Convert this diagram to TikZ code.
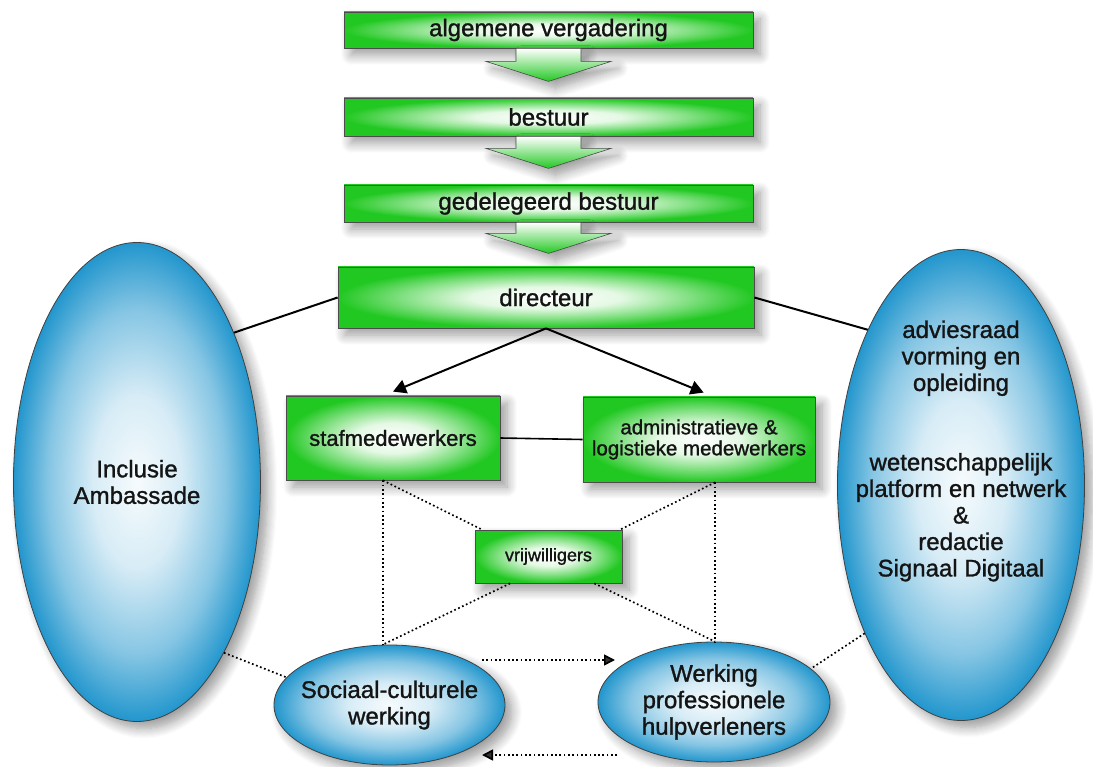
\documentclass[tikz,border=0pt]{standalone}
\usepackage{fontspec}
\setmainfont{Liberation Sans}[FakeBold=1.2]
\usetikzlibrary{shapes.geometric,arrows.meta,calc,shadows.blur}
\definecolor{gr}{RGB}{34,200,34}
\definecolor{bl}{RGB}{34,150,205}
\definecolor{txt}{RGB}{20,20,20}
\colorlet{grA}{white!88!gr}
\colorlet{grB}{gr!55!white}
\colorlet{blA}{white!96!bl}
\colorlet{blB}{white!82!bl}
\colorlet{blC}{bl!55!white}
\pgfdeclareradialshading{greenbox}{\pgfpoint{0bp}{0bp}}{color(0bp)=(white); color(9bp)=(grA); color(17bp)=(grB); color(25bp)=(gr); color(50bp)=(gr)}
\pgfdeclareradialshading{blueell}{\pgfpoint{0bp}{0bp}}{color(0bp)=(blA); color(9bp)=(blB); color(18bp)=(blC); color(25bp)=(bl); color(50bp)=(bl)}
\tikzset{
  shad/.style={blur shadow={shadow xshift=7pt, shadow yshift=-7pt, shadow blur radius=10pt, shadow blur steps=10}},
  gbox/.style={draw=black!70, line width=0.8pt, shading=greenbox, shad, inner sep=0pt, align=center, text=txt, font=\fontsize{24}{26}\selectfont},
  bell/.style={ellipse, draw=black!75, line width=0.8pt, shading=blueell, shad, inner sep=0pt, align=center, text=txt, font=\fontsize{24}{26.5}\selectfont},
  barrow/.style={draw=black!70, line width=0.6pt, top color=white, bottom color=gr, shad},
  solid link/.style={line width=2pt, draw=black},
  tip link/.style={line width=2pt, draw=black, -{Triangle[length=13pt,width=14pt]}},
  dotlink/.style={line width=1.7pt, dash pattern=on 1.7pt off 2.6pt},
  dotarrow/.style={dotlink, -{Triangle[length=11pt,width=11pt]}},
  elabel/.style={align=center, text=txt, font=\fontsize{24}{26.5}\selectfont}
}
\begin{document}
\begin{tikzpicture}[x=1pt,y=-1pt]
\useasboundingbox (0,0) rectangle (1093,767);
% big ellipses
\node[bell, minimum width=247pt, minimum height=479pt] (incl) at (137,482) {Inclusie\\Ambassade};
\node[bell, minimum width=247pt, minimum height=471pt,
  label={[elabel, yshift=34pt]center:adviesraad\\vorming en\\opleiding\\[53pt]wetenschappelijk\\platform en netwerk\\\&\\redactie\\Signaal Digitaal}] (adv) at (961,485) {};
% bottom ellipses
\node[bell, minimum width=231pt, minimum height=120pt,
  label={[elabel]center:Sociaal-culturele\\werking}] (soc) at (389.5,705) {};
\node[bell, minimum width=232pt, minimum height=120pt,
  label={[elabel]center:Werking\\professionele\\hulpverleners}] (wrk) at (714,702) {};
% hierarchy
\node[gbox, minimum width=409pt, minimum height=36pt] (b1) at (548.5,30) {algemene vergadering};
\draw[barrow] ($(b1.south)+(-32.5,0)$) -- ($(b1.south)+(-32.5,13)$) -- ($(b1.south)+(-62.5,13)$) -- ($(b1.south)+(0,33)$) -- ($(b1.south)+(62.5,13)$) -- ($(b1.south)+(32.5,13)$) -- ($(b1.south)+(32.5,0)$) -- cycle;
\node[gbox, minimum width=409pt, minimum height=38pt] (b2) at (548.5,117) {bestuur};
\draw[barrow] ($(b2.south)+(-32.5,0)$) -- ($(b2.south)+(-32.5,12)$) -- ($(b2.south)+(-62.5,12)$) -- ($(b2.south)+(0,32)$) -- ($(b2.south)+(62.5,12)$) -- ($(b2.south)+(32.5,12)$) -- ($(b2.south)+(32.5,0)$) -- cycle;
\node[gbox, minimum width=409pt, minimum height=37pt] (b3) at (548.5,203.5) {gedelegeerd bestuur};
\draw[barrow] ($(b3.south)+(-32.5,0)$) -- ($(b3.south)+(-32.5,11)$) -- ($(b3.south)+(-62.5,11)$) -- ($(b3.south)+(0,31)$) -- ($(b3.south)+(62.5,11)$) -- ($(b3.south)+(32.5,11)$) -- ($(b3.south)+(32.5,0)$) -- cycle;
\node[gbox, minimum width=416pt, minimum height=61pt] (dir) at (546,297.5) {directeur};
% staff
\node[gbox, minimum width=214pt, minimum height=84pt, font=\fontsize{22}{24}\selectfont] (staf) at (393,438) {stafmedewerkers};
\node[gbox, minimum width=232pt, minimum height=85pt, font=\fontsize{20.5}{21}\selectfont] (adm) at (699,439.5) {administratieve \&\\logistieke medewerkers};
\node[gbox, minimum width=147pt, minimum height=53pt, font=\fontsize{18}{20}\selectfont] (vr) at (548.5,556.5) {vrijwilligers};
% connectors
\draw[solid link] (dir.west) -- (incl.57);
\draw[solid link] (dir.east) -- (adv.121);
\draw[tip link] (dir.south) -- ($(staf.north west)!0.5!(staf.north east)+(0,-4)$);
\draw[tip link] (dir.south) -- ($(adm.north west)!0.52!(adm.north east)+(0,-4)$);
\draw[solid link, line width=1.6pt] (staf.east) -- (adm.west);
\coordinate (s1) at ($(staf.south west)!0.453!(staf.south east)$);
\coordinate (a1) at ($(adm.south west)!0.569!(adm.south east)$);
\draw[dotlink] (s1) -- (s1 |- soc.north);
\draw[dotlink] (a1) -- (a1 |- wrk.north);
\draw[dotlink] (s1) -- ($(vr.north west)!0.05!(vr.north east)$);
\draw[dotlink] (a1) -- ($(vr.north west)!0.985!(vr.north east)$);
\draw[dotlink] ($(vr.south west)!0.24!(vr.south east)$) -- (s1 |- soc.north);
\draw[dotlink] ($(vr.south west)!0.81!(vr.south east)$) -- (a1 |- wrk.north);
\draw[dotlink] (incl.-63) -- (soc.165);
\draw[dotlink] (adv.237) -- (wrk.19);
\coordinate (t1) at (482,660);
\coordinate (t2) at (615,660);
\coordinate (u1) at (617,755);
\coordinate (u2) at (482,755);
\draw[dotarrow] (t1) -- (t2);
\draw[dotarrow] (u1) -- (u2);
\end{tikzpicture}
\end{document}
